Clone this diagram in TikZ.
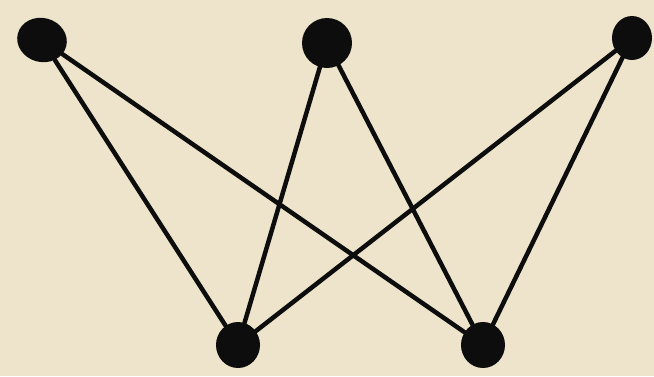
\documentclass[tikz,border=0pt]{standalone}
\usetikzlibrary{shapes.geometric}
\definecolor{paper}{HTML}{EDE4CB}
\definecolor{ink}{HTML}{0D0D0D}
\begin{document}
\begin{tikzpicture}[x=1pt,y=-1pt,
  vert/.style={ellipse,fill=ink,minimum width=50pt,minimum height=44pt,inner sep=0pt},
  edge/.style={draw=ink,line width=4.5pt,line cap=round}]
\fill[paper] (0,0) rectangle (654,376);
\useasboundingbox (0,0) rectangle (654,376);
\node[vert,rotate=-15] (a) at (42,40) {};
\node[vert,minimum width=50pt,minimum height=50pt] (b) at (327,43) {};
\node[vert,minimum width=40pt,minimum height=44pt] (c) at (632,38) {};
\node[vert,minimum width=44pt,minimum height=46pt] (d) at (238,345) {};
\node[vert,minimum width=44pt,minimum height=46pt] (e) at (483,345) {};
\draw[edge] (a) -- (d);
\draw[edge] (a) -- (e);
\draw[edge] (b) -- (d);
\draw[edge] (b) -- (e);
\draw[edge] (c) -- (d);
\draw[edge] (c) -- (e);
\end{tikzpicture}
\end{document}
